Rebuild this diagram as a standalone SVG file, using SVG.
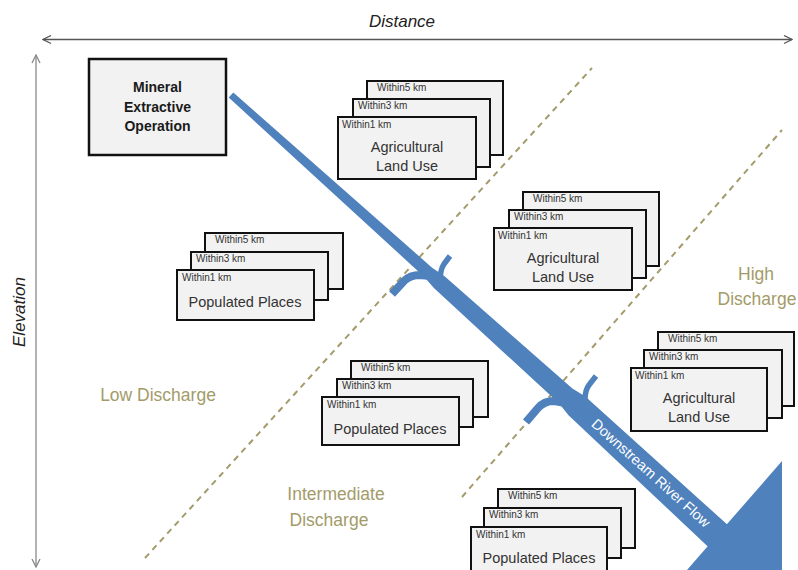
<svg xmlns="http://www.w3.org/2000/svg" width="798" height="570" viewBox="0 0 798 570">
<defs>
<style>
.box{fill:#f2f2f2;stroke:#111;stroke-width:2}
.mbox{fill:#f2f2f2;stroke:#111;stroke-width:2.5}
.sm{font-family:"Liberation Sans",Arial,sans-serif;font-size:10px;fill:#333}
.lb{font-family:"Liberation Sans",Arial,sans-serif;font-size:14.5px;fill:#333;text-anchor:middle}
.mn{font-family:"Liberation Sans",Arial,sans-serif;font-size:14px;font-weight:bold;fill:#1a1a1a;text-anchor:middle}
.ax{font-family:"Liberation Sans",Arial,sans-serif;font-size:17px;font-style:italic;fill:#222;text-anchor:middle}
.dc{font-family:"Liberation Sans",Arial,sans-serif;font-size:17.5px;fill:#a39b69;text-anchor:middle}
.dash{stroke:#a39b69;stroke-width:2;stroke-dasharray:6 5;fill:none}
.trib{stroke:#4f81bd;fill:none;stroke-linecap:butt;stroke-linejoin:round}
</style>
<marker id="ah" viewBox="0 0 10 10" refX="9" refY="5" markerWidth="10" markerHeight="10" markerUnits="userSpaceOnUse" orient="auto-start-reverse">
<path d="M1,1 L9,5 L1,9" fill="none" stroke="#555" stroke-width="1.3"/>
</marker>
<marker id="ah2" viewBox="0 0 10 10" refX="9" refY="5" markerWidth="10" markerHeight="10" markerUnits="userSpaceOnUse" orient="auto-start-reverse">
<path d="M1,1 L9,5 L1,9" fill="none" stroke="#888" stroke-width="1.3"/>
</marker>
</defs>
<rect width="798" height="570" fill="#fff"/>

<g id="axes">
<line x1="43" y1="39.5" x2="792" y2="39.5" stroke="#555" stroke-width="1.5" marker-start="url(#ah)" marker-end="url(#ah)"/>
<text class="ax" x="402" y="27">Distance</text>
<line x1="36" y1="55" x2="36" y2="567" stroke="#999" stroke-width="1.5" marker-start="url(#ah2)" marker-end="url(#ah2)"/>
<text class="ax" transform="translate(25,312) rotate(-90)" x="0" y="0">Elevation</text>
</g>

<g id="zones">
<line class="dash" x1="145" y1="558" x2="592" y2="68"/>
<line class="dash" x1="462" y1="497" x2="782" y2="130"/>
<text class="dc" x="158" y="401">Low Discharge</text>
<text class="dc" x="336" y="500">Intermediate</text>
<text class="dc" x="329" y="526">Discharge</text>
<text class="dc" x="756" y="280">High</text>
<text class="dc" x="757" y="305">Discharge</text>
</g>

<g id="connectors">
<polygon fill="#4f81bd" points="233.3,92.4 432.1,267.7 444.6,276.2 572.4,388.5 585.3,396.6 740,536 720,558 568.5,415.2 559.0,403.3 433.9,288.1 424.1,276.7 228.7,97.6"/>
<polygon fill="#4f81bd" points="782,461 687,570 782,570"/>
<path class="trib" stroke-width="8" d="M392,294 L404,281 Q410,275 420,275 L430,276"/>
<path class="trib" stroke-width="5.5" d="M450,256 L444,264 Q440,270 440,282"/>
<path class="trib" stroke-width="8" d="M526,422 L538,408 Q544,401 554,401 L566,403"/>
<path class="trib" stroke-width="5.5" d="M596,376 L589,385 Q585,390 585,400"/>
<text transform="translate(651,473) rotate(42)" x="0" y="5" font-family="Liberation Sans, Arial, sans-serif" font-size="14.5" fill="#fff" text-anchor="middle">Downstream River Flow</text>
</g>

<g id="mineral">
<rect class="mbox" x="89" y="59" width="137" height="96"/>
<text class="mn" x="157.5" y="92">Mineral</text>
<text class="mn" x="157.5" y="112">Extractive</text>
<text class="mn" x="157.5" y="131">Operation</text>
</g>

<g id="ag1" transform="translate(338,117)">
<rect class="box" x="29" y="-36" width="136" height="74"/>
<text class="sm" x="39" y="-26">Within5 km</text>
<rect class="box" x="15" y="-18" width="137" height="68"/>
<text class="sm" x="20" y="-8">Within3 km</text>
<rect class="box" x="0" y="0" width="138" height="62"/>
<text class="sm" x="4" y="11">Within1 km</text>
<text class="lb" x="69" y="35">Agricultural</text>
<text class="lb" x="69" y="54">Land Use</text>
</g>

<g id="ag2" transform="translate(494,228)">
<rect class="box" x="29" y="-36" width="136" height="74"/>
<text class="sm" x="39" y="-26">Within5 km</text>
<rect class="box" x="15" y="-18" width="137" height="68"/>
<text class="sm" x="20" y="-8">Within3 km</text>
<rect class="box" x="0" y="0" width="138" height="62"/>
<text class="sm" x="4" y="11">Within1 km</text>
<text class="lb" x="69" y="35">Agricultural</text>
<text class="lb" x="69" y="54">Land Use</text>
</g>

<g id="ag3" transform="translate(631,368)">
<rect class="box" x="27" y="-36" width="136" height="74"/>
<text class="sm" x="37" y="-26">Within5 km</text>
<rect class="box" x="13" y="-18" width="138" height="68"/>
<text class="sm" x="18" y="-8">Within3 km</text>
<rect class="box" x="0" y="0" width="136" height="63"/>
<text class="sm" x="4" y="11">Within1 km</text>
<text class="lb" x="68" y="35">Agricultural</text>
<text class="lb" x="68" y="54">Land Use</text>
</g>

<g id="pop1" transform="translate(177,270)">
<rect class="box" x="28" y="-37" width="138" height="56"/>
<text class="sm" x="38" y="-27">Within5 km</text>
<rect class="box" x="14" y="-18" width="137" height="48"/>
<text class="sm" x="19" y="-8">Within3 km</text>
<rect class="box" x="0" y="0" width="137" height="50"/>
<text class="sm" x="5" y="11">Within1 km</text>
<text class="lb" x="68" y="37">Populated Places</text>
</g>

<g id="pop2" transform="translate(322,397)">
<rect class="box" x="29" y="-36" width="137" height="56"/>
<text class="sm" x="39" y="-26">Within5 km</text>
<rect class="box" x="15" y="-18" width="136" height="48"/>
<text class="sm" x="20" y="-8">Within3 km</text>
<rect class="box" x="0" y="0" width="137" height="48"/>
<text class="sm" x="5" y="11">Within1 km</text>
<text class="lb" x="68" y="37">Populated Places</text>
</g>

<g id="pop3" transform="translate(471,527)">
<rect class="box" x="27" y="-38" width="137" height="59"/>
<text class="sm" x="37" y="-28">Within5 km</text>
<rect class="box" x="13" y="-19" width="137" height="50"/>
<text class="sm" x="18" y="-9">Within3 km</text>
<rect class="box" x="0" y="0" width="136" height="50"/>
<text class="sm" x="5" y="11">Within1 km</text>
<text class="lb" x="68" y="36">Populated Places</text>
</g>
</svg>
